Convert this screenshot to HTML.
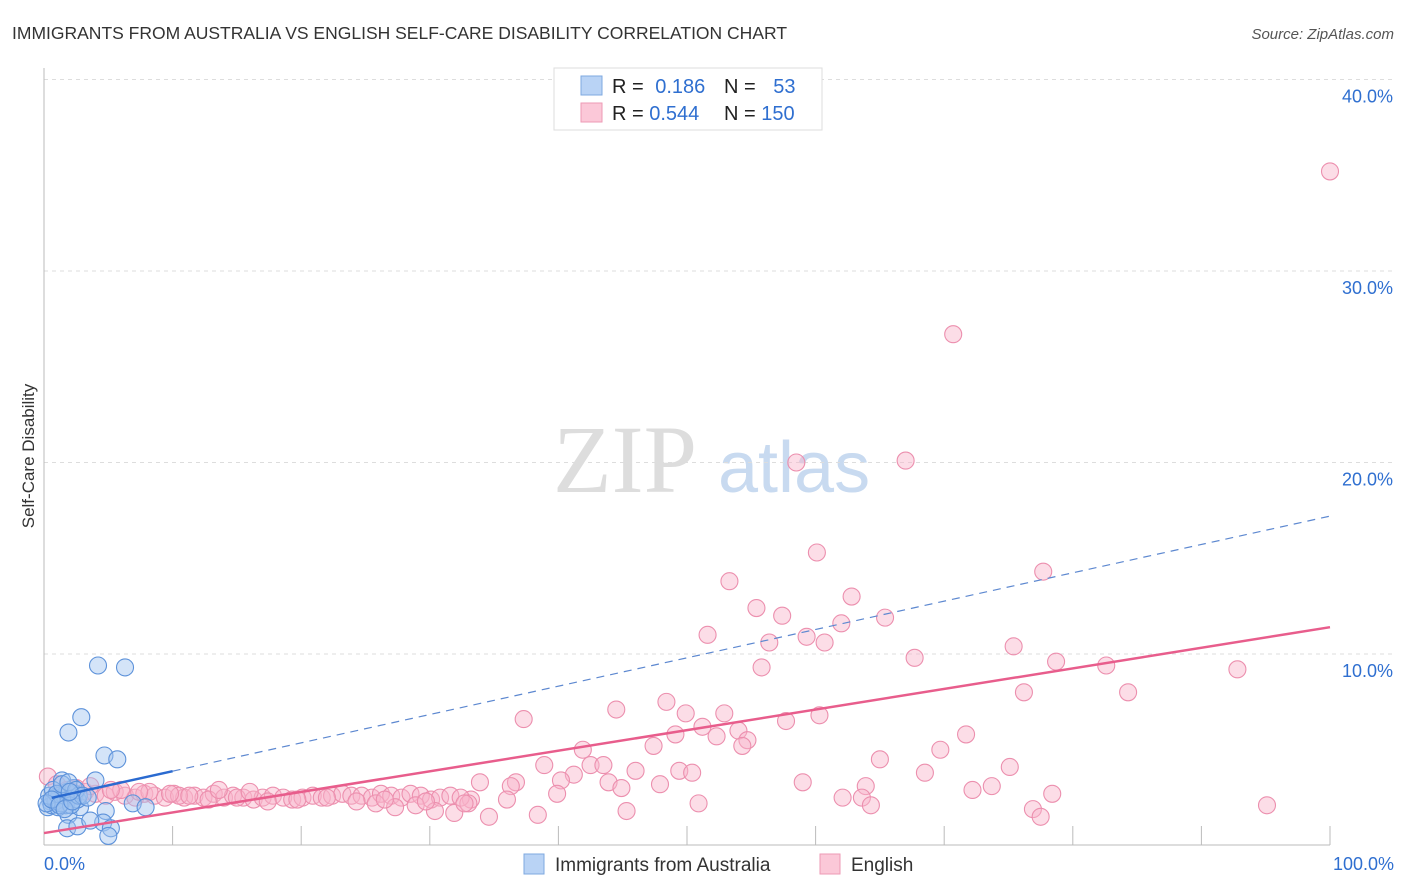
<!DOCTYPE html>
<html><head><meta charset="utf-8"><style>
body{margin:0;background:#fff;font-family:"Liberation Sans",sans-serif;}
#wrap{position:relative;width:1406px;height:892px;overflow:hidden;}
</style></head><body>
<div id="wrap">
<svg id="svg" width="1406" height="892" xmlns="http://www.w3.org/2000/svg">
<text x="12" y="39" font-size="17.5" fill="#333">IMMIGRANTS FROM AUSTRALIA VS ENGLISH SELF-CARE DISABILITY CORRELATION CHART</text>
<text x="1394" y="39" font-size="15" fill="#555" font-style="italic" text-anchor="end">Source: ZipAtlas.com</text>
<text x="34" y="456" font-size="17" fill="#333" text-anchor="middle" transform="rotate(-90 34 456)">Self-Care Disability</text>
<g>
<text x="553" y="492" font-size="96" fill="#ddd" font-family="Liberation Serif,serif">ZIP</text>
<text x="718" y="492" font-size="72" fill="#c8daf0">atlas</text>
</g>
<g id="grid"></g><g id="pts"></g><g id="lines"></g>
<g>
<rect x="554" y="68" width="268" height="62" fill="#fff" stroke="#ddd"/>
<rect x="581" y="76" width="21" height="19" fill="#b9d3f5" stroke="#7ea8e0"/>
<rect x="581" y="103" width="21" height="19" fill="#fbc8d8" stroke="#ee9ab5"/>
<text x="612" y="93" font-size="20" fill="#222">R = <tspan fill="#2f6fd0" dx="6">0.186</tspan></text>
<text x="724" y="93" font-size="20" fill="#222">N = <tspan fill="#2f6fd0" dx="12">53</tspan></text>
<text x="612" y="120" font-size="20" fill="#222">R = <tspan fill="#2f6fd0">0.544</tspan></text>
<text x="724" y="120" font-size="20" fill="#222">N = <tspan fill="#2f6fd0">150</tspan></text>
</g>
<g>
<rect x="524" y="854" width="20" height="20" fill="#b9d3f5" stroke="#7ea8e0"/>
<text x="555" y="871" font-size="19" fill="#333">Immigrants from Australia</text>
<rect x="820" y="854" width="20" height="20" fill="#fbc8d8" stroke="#ee9ab5"/>
<text x="851" y="871" font-size="19" fill="#333">English</text>
</g>
<text x="44" y="870" font-size="18" fill="#2f6fd0">0.0%</text>
<text x="1394" y="870" font-size="18" fill="#2f6fd0" text-anchor="end">100.0%</text>
</svg></div>
<script>
const yTicks=[10,20,30,40];
const yTickLabels=["10.0%","20.0%","30.0%","40.0%"];
const xTicks=[10,20,30,40,50,60,70,80,90,100];
const blueX=[4.2,6.3,2.9,1.9,4.7,5.7,4.0,1.4,6.9,7.9,4.8,1.9,2.8,4.6,1.8,5.2,5.0,2.6,3.6,0.5,0.8,1.0,1.2,1.5,1.7,2.0,2.2,2.4,2.6,0.3,0.6,0.9,1.1,1.3,1.6,1.8,2.1,2.3,2.7,0.4,0.7,1.0,1.4,1.9,2.5,3.0,0.2,0.6,1.2,1.6,2.2,3.4,2.0];
const blueY=[9.4,9.3,6.7,5.9,4.7,4.5,3.4,3.4,2.2,2.0,1.8,1.6,2.0,1.2,0.9,0.9,0.5,1.0,1.3,2.3,2.5,2.2,2.6,2.4,2.1,2.5,2.3,2.7,2.4,2.0,2.1,2.3,2.0,2.2,2.6,2.8,2.1,3.0,2.6,2.6,2.9,2.7,3.2,3.3,2.9,2.6,2.2,2.4,2.1,1.9,2.3,2.5,2.8];
const pinkX=[100,70.7,58.5,67.0,60.1,77.7,53.3,62.8,55.4,57.4,62.0,65.4,51.6,59.3,56.4,60.7,75.4,67.7,55.8,78.7,82.6,92.8,76.2,84.3,37.3,44.5,48.4,49.9,52.9,60.3,51.2,54.0,57.7,49.1,52.3,54.7,54.3,71.7,47.4,41.9,69.7,38.9,65.0,42.5,43.5,41.2,40.2,46.0,49.4,50.4,68.5,75.1,43.9,44.9,47.9,36.7,33.9,36.3,59.0,63.9,72.2,73.7,78.4,39.9,62.1,63.6,33.2,36.0,64.3,50.9,95.1,76.9,77.5,45.3,38.4,34.6,
0.3,1.0,1.8,2.5,3.2,4.0,4.8,5.5,6.3,7.1,7.8,8.6,9.4,10.1,10.9,11.7,12.4,13.2,14.0,14.7,15.5,16.3,17.0,17.8,18.6,19.3,20.1,20.9,21.6,22.4,23.2,23.9,24.7,25.5,26.2,27.0,27.8,28.5,29.3,30.1,30.8,31.6,32.4,25.8,27.3,28.9,30.4,31.9,33.0,26.5,29.7,32.7,3.6,6.0,8.2,10.5,12.8,15.0,17.4,19.7,22.0,24.3,1.4,2.2,5.2,7.4,9.8,11.3,13.6,16.0];
const pinkY=[35.2,26.7,20.0,20.1,15.3,14.3,13.8,13.0,12.4,12.0,11.6,11.9,11.0,10.9,10.6,10.6,10.4,9.8,9.3,9.6,9.4,9.2,8.0,8.0,6.6,7.1,7.5,6.9,6.9,6.8,6.2,6.0,6.5,5.8,5.7,5.5,5.2,5.8,5.2,5.0,5.0,4.2,4.5,4.2,4.2,3.7,3.4,3.9,3.9,3.8,3.8,4.1,3.3,3.0,3.2,3.3,3.3,3.1,3.3,3.1,2.9,3.1,2.7,2.7,2.5,2.5,2.4,2.4,2.1,2.2,2.1,1.9,1.5,1.8,1.6,1.5,
3.6,3.2,2.9,3.0,2.8,2.7,2.6,2.8,2.6,2.5,2.7,2.6,2.5,2.7,2.5,2.6,2.5,2.7,2.5,2.6,2.5,2.4,2.5,2.6,2.5,2.4,2.5,2.6,2.5,2.6,2.7,2.6,2.6,2.5,2.7,2.6,2.5,2.7,2.6,2.4,2.5,2.6,2.5,2.2,2.0,2.1,1.8,1.7,2.2,2.4,2.3,2.2,3.1,2.9,2.8,2.6,2.4,2.5,2.3,2.4,2.5,2.3,2.7,2.8,2.9,2.8,2.7,2.6,2.9,2.8];
const pinkLine=[0.65,11.4];
const blueLine=[2.4,17.2];
const blueSolidEnd=10;
const X0=44,X1=1330,Y0=845.5,PPY=19.15;
const xs=v=>X0+(X1-X0)*v/100, ys=v=>Y0-v*PPY;
const NS="http://www.w3.org/2000/svg";
function mk(tag,attrs,parent){const e=document.createElementNS(NS,tag);for(const k in attrs)e.setAttribute(k,attrs[k]);parent.appendChild(e);return e;}
const grid=document.getElementById('grid');
yTicks.forEach((t,i)=>{
 const l=mk('line',{x1:X0,x2:1394,y1:ys(t),y2:ys(t),stroke:'#ddd','stroke-dasharray':'4,4'},grid);
 
 
 const tx=mk('text',{x:1393,y:ys(t)+23,'font-size':18,fill:'#2f6fd0','text-anchor':'end'},grid);
 tx.textContent=yTickLabels[i];
 
 
});
const ax=mk('line',{x1:X0,x2:X0,y1:68,y2:845,stroke:'#bbb'},grid);


const bx=mk('line',{x1:X0,x2:X1,y1:845,y2:845,stroke:'#bbb'},grid);


xTicks.forEach(t=>{
 const l=mk('line',{x1:xs(t),x2:xs(t),y1:826,y2:845,stroke:'#bbb'},grid);
 
 
});
const pts=document.getElementById('pts');
pinkX.forEach((x,i)=>{
 const c=mk('circle',{cx:xs(x),cy:ys(pinkY[i]),r:8.5,fill:'rgba(248,180,202,0.45)',stroke:'#ec8fae','stroke-width':1.1},pts);
 
 
});
blueX.forEach((x,i)=>{
 const c=mk('circle',{cx:xs(x),cy:ys(blueY[i]),r:8.5,fill:'rgba(160,195,240,0.45)',stroke:'#5d92da','stroke-width':1.1},pts);
 
 
});
const lines=document.getElementById('lines');
const pl=mk('line',{x1:xs(0),y1:ys(pinkLine[0]),x2:xs(100),y2:ys(pinkLine[1]),stroke:'#e85d8c','stroke-width':2.5},lines);


const by=v=>blueLine[0]+(blueLine[1]-blueLine[0])*v/100;
const bd=mk('line',{x1:xs(blueSolidEnd),y1:ys(by(blueSolidEnd)),x2:xs(100),y2:ys(by(100)),stroke:'#5d88d0','stroke-width':1.2,'stroke-dasharray':'8,6'},lines);


const bs=mk('line',{x1:xs(0.6),y1:ys(by(0.6)),x2:xs(blueSolidEnd),y2:ys(by(blueSolidEnd)),stroke:'#2a6ad0','stroke-width':2.5},lines);


</script>
</body></html>
